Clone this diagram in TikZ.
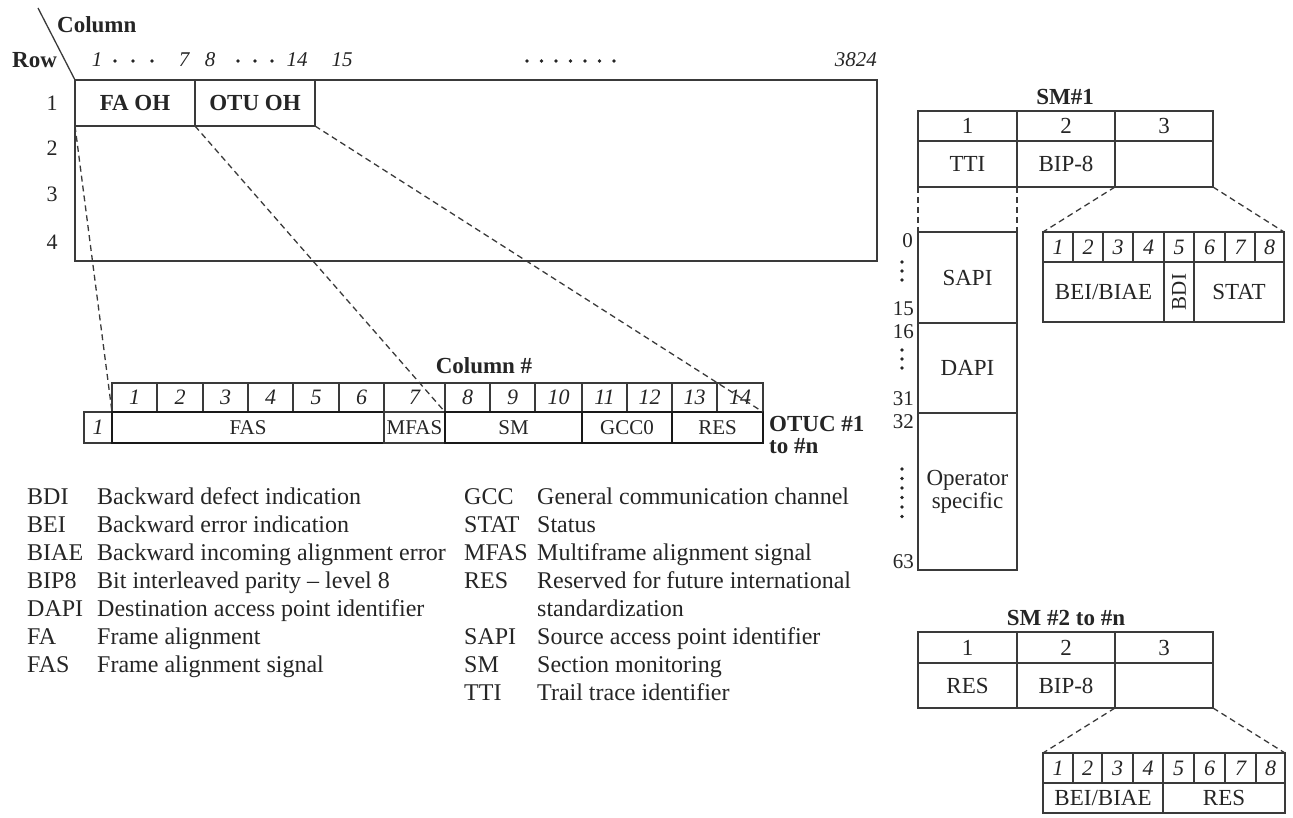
\documentclass[tikz,border=0pt]{standalone}
\usepackage{fontspec}
\setmainfont{Liberation Serif}
\definecolor{ln}{HTML}{3A3A3A}
\definecolor{txt}{HTML}{252525}
\newcommand{\mkcell}[7][]{\node[cell,#1,minimum width={#5pt-#3pt},minimum height={#6pt-#4pt}] (#2) at (#3,#4) {#7};}
\begin{document}
\begin{tikzpicture}[x=1pt,y=-1pt,
  cell/.style={draw=ln,line width=1.2pt,inner sep=0pt,outer sep=0pt,anchor=north west,text=txt,font=\fontsize{23}{26}\selectfont},
  icell/.style={font=\fontsize{22}{24}\selectfont\itshape},
  tcell/.style={font=\fontsize{21}{24}\selectfont},
  thk/.style={line width=2.4pt,draw=black!90},
  txtn/.style={inner sep=0pt,text=txt,font=\fontsize{23}{26}\selectfont},
  bld/.style={txtn,font=\fontsize{23}{26}\selectfont\bfseries},
  inum/.style={txtn,font=\fontsize{21}{24}\selectfont\itshape},
  snum/.style={txtn,anchor=east,font=\fontsize{21}{22}\selectfont},
  leg/.style={inner sep=0pt,text=txt,font=\fontsize{24}{28}\selectfont,anchor=base west},
  dline/.style={draw=ln,line width=1.3pt,dash pattern=on 6pt off 4pt},
  dotm/.style={fill=txt}]
\useasboundingbox (0,0) rectangle (1293,818);

% ---------- main frame ----------
\node[cell,line width=1.6pt,minimum width=802pt,minimum height=181pt] (frame) at (75,80) {};
\mkcell[line width=1.6pt]{faoh}{75}{80}{195}{126}{\bfseries FA OH}
\mkcell[line width=1.6pt]{otuoh}{195}{80}{315}{126}{\bfseries OTU OH}
\coordinate (diagA) at (38,8);
\draw[ln,line width=1.3pt] (diagA) -- (frame.north west);
\node[bld,anchor=west] (colhdr) at (57,25) {Column};
\node[bld,anchor=west] (rowhdr) at (12,60) {Row};
\node[inum] (h1) at (97,60) {1};
\node[inum] (h7) at (184,60) {7};
\node[inum] (h8) at (210,60) {8};
\node[inum] (h14) at (297,60) {14};
\node[inum] (h15) at (342,60) {15};
\node[inum,anchor=east] (h3824) at (877,60) {3824};
\foreach \x in {115,133,152,238,255,272} \fill[dotm] (\x,61) circle (1.9pt);
\foreach \i in {0,...,6} \fill[dotm] (527+\i*14.5,61) circle (1.9pt);
\node[txtn,font=\fontsize{22}{24}\selectfont] (r1) at (52,103) {1};
\node[txtn,font=\fontsize{22}{24}\selectfont] (r2) at (52,148) {2};
\node[txtn,font=\fontsize{22}{24}\selectfont] (r3) at (52,194) {3};
\node[txtn,font=\fontsize{22}{24}\selectfont] (r4) at (52,242) {4};

% ---------- OTUC column table ----------
\node[bld] (colnum) at (484,366) {Column \#};
\mkcell[icell]{t1}{112}{383}{157}{412}{1}
\mkcell[icell]{t2}{157}{383}{203}{412}{2}
\mkcell[icell]{t3}{203}{383}{248}{412}{3}
\mkcell[icell]{t4}{248}{383}{293}{412}{4}
\mkcell[icell]{t5}{293}{383}{339}{412}{5}
\mkcell[icell]{t6}{339}{383}{384}{412}{6}
\mkcell[icell]{t7}{384}{383}{445}{412}{7}
\mkcell[icell]{t8}{445}{383}{490}{412}{8}
\mkcell[icell]{t9}{490}{383}{535}{412}{9}
\mkcell[icell]{t10}{535}{383}{582}{412}{10}
\mkcell[icell]{t11}{582}{383}{627}{412}{11}
\mkcell[icell]{t12}{627}{383}{672}{412}{12}
\mkcell[icell]{t13}{672}{383}{717}{412}{13}
\mkcell[icell]{t14}{717}{383}{763}{412}{14}
\mkcell[icell]{b1}{84}{412}{112}{443}{1}
\mkcell[tcell,thk]{bfas}{112}{412}{384}{443}{FAS}
\mkcell[tcell]{bmfas}{384}{412}{445}{443}{MFAS}
\mkcell[tcell,thk]{bsm}{445}{412}{582}{443}{SM}
\mkcell[tcell,thk]{bgcc}{582}{412}{672}{443}{GCC0}
\mkcell[tcell,thk]{bres}{672}{412}{763}{443}{RES}
\node[bld,anchor=west] (otuc1) at (769,424) {OTUC \#1};
\node[bld,anchor=west] (otuc2) at (769,446) {to \#n};
\draw[dline] (faoh.south west) -- (t1.south west);
\draw[dline] (faoh.south east) -- (t7.south east);
\draw[dline] (otuoh.south east) -- (t14.south east);

% ---------- legend ----------
\node[leg] (a1) at (27,504) {BDI};   \node[leg] (d1) at (97,504) {Backward defect indication};
\node[leg] (a2) at (27,532) {BEI};   \node[leg] (d2) at (97,532) {Backward error indication};
\node[leg] (a3) at (27,560) {BIAE};  \node[leg] (d3) at (97,560) {Backward incoming alignment error};
\node[leg] (a4) at (27,588) {BIP8};  \node[leg] (d4) at (97,588) {Bit interleaved parity – level 8};
\node[leg] (a5) at (27,616) {DAPI};  \node[leg] (d5) at (97,616) {Destination access point identifier};
\node[leg] (a6) at (27,644) {FA};    \node[leg] (d6) at (97,644) {Frame alignment};
\node[leg] (a7) at (27,672) {FAS};   \node[leg] (d7) at (97,672) {Frame alignment signal};
\node[leg] (e1) at (464,504) {GCC};  \node[leg] (f1) at (537,504) {General communication channel};
\node[leg] (e2) at (464,532) {STAT}; \node[leg] (f2) at (537,532) {Status};
\node[leg] (e3) at (464,560) {MFAS}; \node[leg] (f3) at (537,560) {Multiframe alignment signal};
\node[leg] (e4) at (464,588) {RES};  \node[leg] (f4) at (537,588) {Reserved for future international};
\node[leg] (f4b) at (537,616) {standardization};
\node[leg] (e5) at (464,644) {SAPI}; \node[leg] (f5) at (537,644) {Source access point identifier};
\node[leg] (e6) at (464,672) {SM};   \node[leg] (f6) at (537,672) {Section monitoring};
\node[leg] (e7) at (464,700) {TTI};  \node[leg] (f7) at (537,700) {Trail trace identifier};

% ---------- SM#1 ----------
\node[bld] (sm1t) at (1065,97) {SM\#1};
\mkcell{sa1}{918}{111}{1017}{141}{1}
\mkcell{sa2}{1017}{111}{1115}{141}{2}
\mkcell{sa3}{1115}{111}{1213}{141}{3}
\mkcell{sb1}{918}{141}{1017}{187}{TTI}
\mkcell{sb2}{1017}{141}{1115}{187}{BIP-8}
\mkcell{sb3}{1115}{141}{1213}{187}{}
\mkcell{sapi}{918}{232}{1017}{323}{SAPI}
\mkcell{dapi}{918}{323}{1017}{413}{DAPI}
\mkcell[align=center]{opsp}{918}{413}{1017}{570}{Operator\\[-3pt]specific}
\draw[dline] (sb1.south west) -- (sapi.north west);
\draw[dline] (sb1.south east) -- (sapi.north east);
\node[snum] (l0) at (913,241) {0};
\node[snum] (l15) at (914,309) {15};
\node[snum] (l16) at (914,332) {16};
\node[snum] (l31) at (914,399) {31};
\node[snum] (l32) at (914,422) {32};
\node[snum] (l63) at (914,562) {63};
\foreach \y in {262,271,280,350,359,368,469,478.5,488,497.5,507,516.5} \fill[dotm] (902,\y) circle (1.8pt);
% bit table
\mkcell[icell]{p1}{1043}{232}{1073}{262}{1}
\mkcell[icell]{p2}{1073}{232}{1103}{262}{2}
\mkcell[icell]{p3}{1103}{232}{1133}{262}{3}
\mkcell[icell]{p4}{1133}{232}{1164}{262}{4}
\mkcell[icell]{p5}{1164}{232}{1194}{262}{5}
\mkcell[icell]{p6}{1194}{232}{1225}{262}{6}
\mkcell[icell]{p7}{1225}{232}{1255}{262}{7}
\mkcell[icell]{p8}{1255}{232}{1284}{262}{8}
\mkcell{pbei}{1043}{262}{1164}{322}{BEI/BIAE}
\mkcell{pbdi}{1164}{262}{1194}{322}{}
\node[txtn,rotate=90,font=\fontsize{21}{24}\selectfont] (bditext) at (pbdi.center) {BDI};
\mkcell{pstat}{1194}{262}{1284}{322}{STAT}
\draw[dline] (sb3.south west) -- (p1.north west);
\draw[dline] (sb3.south east) -- (p8.north east);

% ---------- SM #2 to #n ----------
\node[bld] (sm2t) at (1066,618) {SM \#2 to \#n};
\mkcell{qa1}{918}{632}{1017}{663}{1}
\mkcell{qa2}{1017}{632}{1115}{663}{2}
\mkcell{qa3}{1115}{632}{1213}{663}{3}
\mkcell{qb1}{918}{663}{1017}{708}{RES}
\mkcell{qb2}{1017}{663}{1115}{708}{BIP-8}
\mkcell{qb3}{1115}{663}{1213}{708}{}
\mkcell[icell]{u1}{1043}{753}{1073}{783}{1}
\mkcell[icell]{u2}{1073}{753}{1102}{783}{2}
\mkcell[icell]{u3}{1102}{753}{1133}{783}{3}
\mkcell[icell]{u4}{1133}{753}{1163}{783}{4}
\mkcell[icell]{u5}{1163}{753}{1194}{783}{5}
\mkcell[icell]{u6}{1194}{753}{1225}{783}{6}
\mkcell[icell]{u7}{1225}{753}{1256}{783}{7}
\mkcell[icell]{u8}{1256}{753}{1285}{783}{8}
\mkcell{ubei}{1043}{783}{1163}{813}{BEI/BIAE}
\mkcell{ures}{1163}{783}{1285}{813}{RES}
\draw[dline] (qb3.south west) -- (u1.north west);
\draw[dline] (qb3.south east) -- (u8.north east);
\end{tikzpicture}
\end{document}
